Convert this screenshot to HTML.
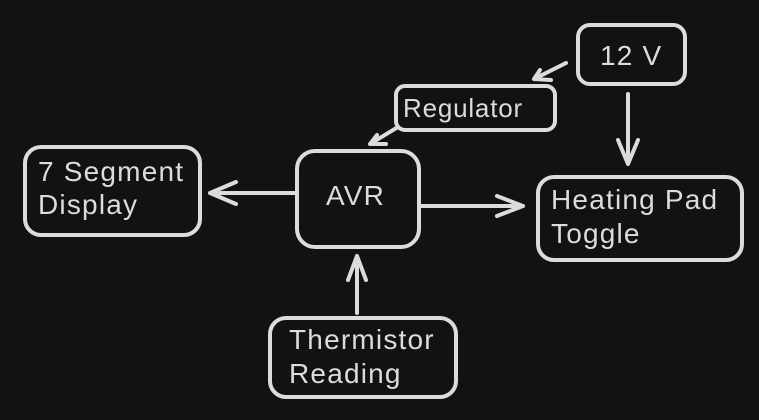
<!DOCTYPE html>
<html><head><style>
html,body{margin:0;padding:0;background:#121212;}
svg{display:block}
text{font-family:"Liberation Sans",sans-serif;font-size:28px;fill:#dcdcdc;letter-spacing:1.2px}
</style></head><body>
<svg width="759" height="420" viewBox="0 0 759 420">
<rect width="759" height="420" fill="#121212"/>
<g fill="none" stroke="#dcdcdc" stroke-width="4" stroke-linecap="round" stroke-linejoin="round">
<rect x="25" y="147" width="175" height="88" rx="16"/>
<rect x="297" y="151" width="122" height="96" rx="18"/>
<rect x="396" y="86" width="159" height="44" rx="9"/>
<rect x="578" y="25" width="107" height="59" rx="12"/>
<rect x="538" y="177" width="204" height="83" rx="16"/>
<rect x="270" y="318" width="186" height="79" rx="16"/>
<path d="M296 193 L210 193 M236 182 L210 193 L236 204"/>
<path d="M421 206 L523 206 M497 196 L523 206 L497 216"/>
<path d="M357 313 L357 256 M348 280 L357 256 L366 280"/>
<path d="M628 94 L628 164 M618 140 L628 164 L638 140"/>
<path d="M566 63 L534 79 M540 70 L534 79 L551 80"/>
<path d="M398 127 L370 144 M377 135 L370 144 L386 144"/>
</g>
<text x="38" y="181">7 Segment</text>
<text x="38" y="214">Display</text>
<text x="326" y="205">AVR</text>
<text x="403" y="117" style="font-size:26px;letter-spacing:0.8px">Regulator</text>
<text x="600" y="65">12 V</text>
<text x="551" y="209">Heating Pad</text>
<text x="551" y="243">Toggle</text>
<text x="289" y="349">Thermistor</text>
<text x="289" y="383">Reading</text>
</svg>
</body></html>
